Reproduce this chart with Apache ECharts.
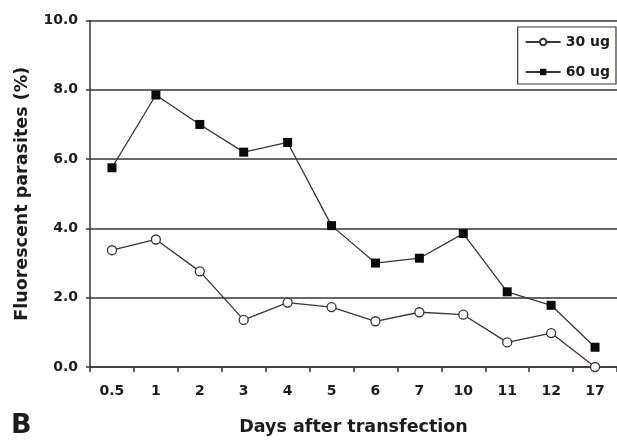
<!DOCTYPE html>
<html><head><meta charset="utf-8">
<script src="https://cdn.jsdelivr.net/npm/echarts@6/dist/echarts.min.js"></script>
<style>html,body{margin:0;padding:0;background:#fff}#c{width:617px;height:441px}</style>
</head><body><div id="c"></div>
<script>
var categories = ['0.5','1','2','3','4','5','6','7','10','11','12','17'];
var ug30 = [3.37,3.68,2.76,1.36,1.86,1.73,1.32,1.58,1.51,0.71,0.98,0.0];
var ug60 = [5.75,7.85,7.0,6.2,6.48,4.08,3.0,3.14,3.85,2.17,1.78,0.57];
var lineColor = '#3b3431';
var textColor = '#1c1c1c';
var font = '"DejaVu Sans", Arial, sans-serif';
var chart = echarts.init(document.getElementById('c'));
chart.setOption({
  animation: false,
  backgroundColor: '#fff',
  grid: {left: 90, right: -10.5, top: 20.5, bottom: 71, containLabel: false},
  legend: {
    right: 1, top: 27, orient: 'vertical',
    itemWidth: 35, itemHeight: 8, itemGap: 16,
    padding: [8, 6, 5, 7],
    borderColor: lineColor, borderWidth: 1.2,
    textStyle: {fontFamily: font, fontWeight: 'bold', fontSize: 14, color: textColor},
    data: ['30 ug', '60 ug']
  },
  graphic: [{type: 'text', left: 11, top: 412, style: {text: 'B', font: 'bold 27px ' + font, fill: textColor}}],
  xAxis: {
    type: 'category', data: categories, boundaryGap: true,
    name: 'Days after transfection', nameLocation: 'middle', nameGap: 51,
    nameTextStyle: {fontFamily: font, fontWeight: 'bold', fontSize: 17.5, color: textColor},
    axisLine: {lineStyle: {color: lineColor, width: 1.5}},
    axisTick: {show: true, length: 5, lineStyle: {color: lineColor, width: 1.5}},
    axisLabel: {fontFamily: font, fontWeight: 'bold', fontSize: 14, color: textColor, margin: 17}
  },
  yAxis: {
    type: 'value', min: 0, max: 10, interval: 2,
    name: 'Fluorescent parasites (%)', nameLocation: 'middle', nameGap: 59, nameRotate: 90,
    nameTextStyle: {fontFamily: font, fontWeight: 'bold', fontSize: 17.5, color: textColor},
    axisLine: {show: true, lineStyle: {color: lineColor, width: 1.5}},
    axisTick: {show: true, length: 4, lineStyle: {color: lineColor, width: 1.5}},
    axisLabel: {fontFamily: font, fontWeight: 'bold', fontSize: 14, color: textColor, margin: 12,
      formatter: function (v) { return v.toFixed(1); }},
    splitLine: {show: true, lineStyle: {color: lineColor, width: 1.5}}
  },
  series: [
    {name: '30 ug', type: 'line', data: ug30, symbol: 'circle', symbolSize: 9,
      lineStyle: {color: lineColor, width: 1.3},
      itemStyle: {color: '#fff', borderColor: lineColor, borderWidth: 1.3}},
    {name: '60 ug', type: 'line', data: ug60, symbol: 'rect', symbolSize: 9,
      lineStyle: {color: lineColor, width: 1.3},
      itemStyle: {color: '#0a0a0a', borderColor: '#0a0a0a', borderWidth: 0}}
  ]
});
</script></body></html>
